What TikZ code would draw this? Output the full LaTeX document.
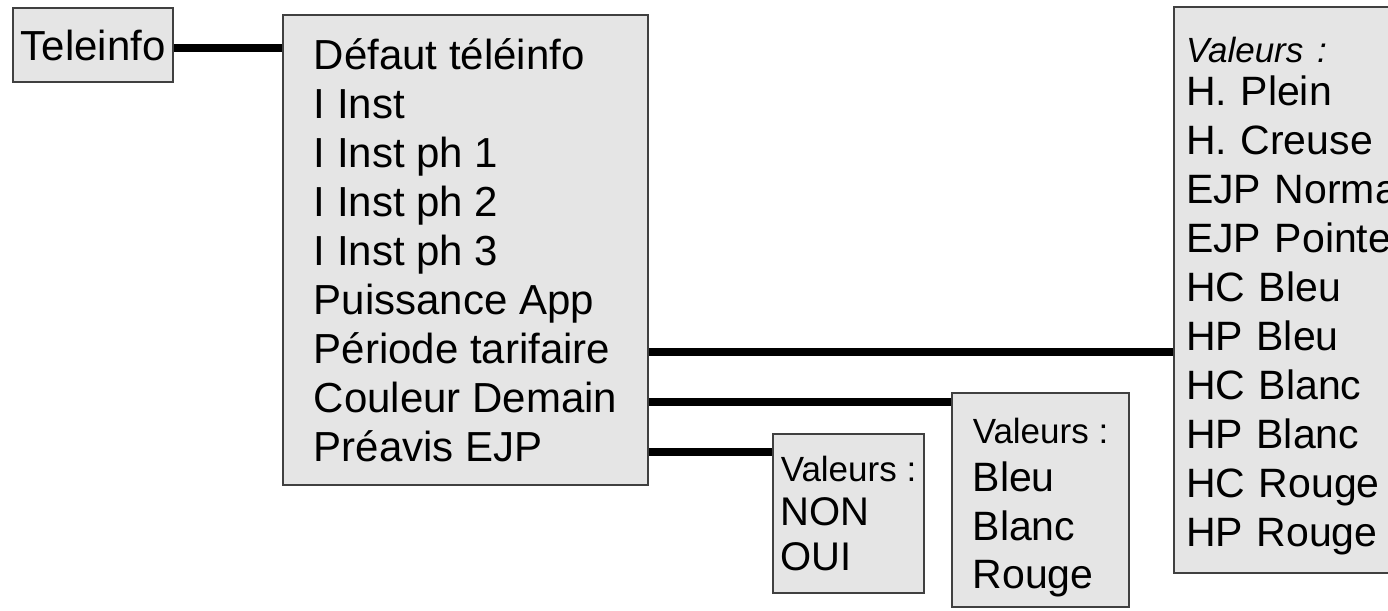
\documentclass[tikz,border=0pt]{standalone}
\usepackage{fontspec}
\setmainfont{Liberation Sans}
\usetikzlibrary{positioning,calc}

\begin{document}
\begin{tikzpicture}[x=1pt,y=-1pt,
    boite/.style={draw=black!75, line width=2pt, fill=gray!20, align=left, inner sep=0pt},
    lien/.style={line width=8pt}]

    \useasboundingbox (0,0) rectangle (1388,610);
    \clip (0,0) rectangle (1388,610);

    \node [boite, font=\fontsize{42}{49}\selectfont, minimum width=160pt, minimum height=74pt] (tele) at (93,45) {Teleinfo};
    \node [boite, font=\fontsize{42}{49}\selectfont, minimum width=365pt, minimum height=470pt] (menu) at (465.5,250) {
        Défaut téléinfo\\ I Inst\\ I Inst ph 1\\ I Inst ph 2\\ I Inst ph 3\\
        Puissance App\\ Période tarifaire\\ Couleur Demain\\ Préavis EJP};
    \node [boite, font=\fontsize{41}{49}\selectfont, anchor=north west, text width=240pt, inner xsep=12pt, minimum height=566pt] (tarif) at (1173,6) {
        {\fontsize{35}{42}\selectfont\itshape\rule{0pt}{37.5pt}Valeurs :}\\[-6pt]
        H. Plein\\ H. Creuse\\ EJP Normal\\ EJP Pointe\\ HC Bleu\\
        HP Bleu\\ HC Blanc\\ HP Blanc\\ HC Rouge\\ HP Rouge};
    \node [boite, font=\fontsize{41}{48}\selectfont, minimum width=177pt, minimum height=214pt] (coul) at (1040.5,500) {
        {\fontsize{35}{42}\selectfont\rule{0pt}{40.5pt}Valeurs :}\\[0pt] Bleu\\[1pt] Blanc\\ Rouge};
    \node [boite, font=\fontsize{40}{45}\selectfont, minimum width=151pt, minimum height=159pt] (ejp) at (848.5,513.5) {
        {\fontsize{35}{42}\selectfont Valeurs :}\\[-1pt] NON\\ OUI};

    % points where the links meet the value boxes
    \coordinate (ptarif) at ([yshift=-346pt]tarif.north west);
    \coordinate (pcoul) at ([yshift=-10pt]coul.north west);
    \coordinate (pejp) at ([yshift=-19pt]ejp.north west);

    \draw [lien] ([yshift=-3pt]tele.east) -- ([yshift=-3pt]tele.east -| menu.west);
    \draw [lien] (menu.east |- ptarif) -- (ptarif);
    \draw [lien] (menu.east |- pcoul) -- (pcoul);
    \draw [lien] (menu.east |- pejp) -- (pejp);
\end{tikzpicture}
\end{document}
